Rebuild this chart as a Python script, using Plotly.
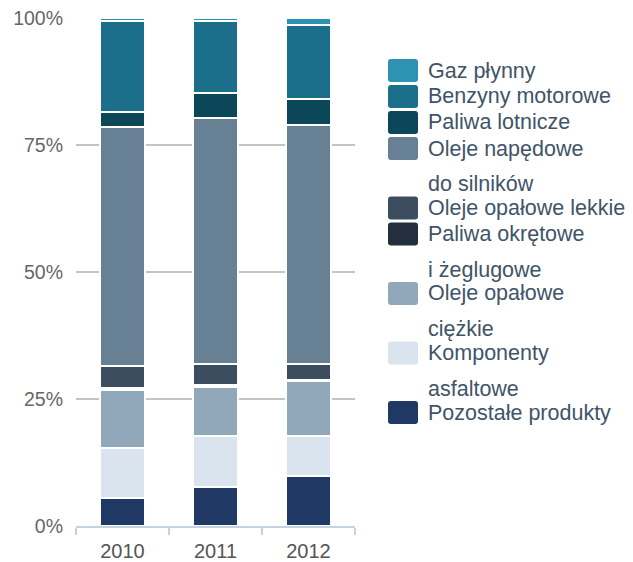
import plotly.graph_objects as go

# shares of sales, stacked bottom -> top
years = ["2010", "2011", "2012"]
pozostale = [5.5, 7.7, 9.9]
komponenty = [9.9, 10.0, 7.8]
oleje_ciezkie = [11.4, 9.7, 10.8]
paliwa_okretowe = [0.4, 0.3, 0.3]
oleje_lekkie = [4.3, 4.2, 3.2]
oleje_napedowe = [46.9, 48.5, 47.0]
paliwa_lotnicze = [3.0, 4.8, 5.1]
benzyny = [17.9, 14.2, 14.7]
gaz = [0.6, 0.6, 1.3]

y_ticks = [0, 25, 50, 75, 100]
y_tick_labels = ["0%", "25%", "50%", "75%", "100%"]

series = [
    (["Pozostałe produkty"], pozostale, "#1f3864"),
    (["Komponenty", "asfaltowe"], komponenty, "#dae4ef"),
    (["Oleje opałowe", "ciężkie"], oleje_ciezkie, "#91a7ba"),
    (["Paliwa okrętowe", "i żeglugowe"], paliwa_okretowe, "#232f3c"),
    (["Oleje opałowe lekkie"], oleje_lekkie, "#3c4d60"),
    (["Oleje napędowe", "do silników"], oleje_napedowe, "#678094"),
    (["Paliwa lotnicze"], paliwa_lotnicze, "#0c4659"),
    (["Benzyny motorowe"], benzyny, "#1c6f8b"),
    (["Gaz płynny"], gaz, "#2e93b3"),
]

# the page body has an 8px default margin, so the figure is shrunk by that much
OFF = 8
W, H = 633 - OFF, 562 - OFF
L, R, T, B = 76 - OFF, 278, 18 - OFF, 36
PW, PH = W - L - R, H - T - B
FONT = "Liberation Sans, Arial, sans-serif"
TXT = "#3f5469"


def px_x(px):
    # page pixel -> paper coord
    return (px - OFF - L) / PW


def px_y(py):
    return (OFF + T + PH - py) / PH


def rounded_rect(x0, y0, x1, y1, r=3):
    rx, ry = r / PW, r / PH
    a, b, c, d = px_x(x0), px_y(y0), px_x(x1), px_y(y1)
    return (f"M{a + rx},{b} L{c - rx},{b} Q{c},{b} {c},{b - ry} "
            f"L{c},{d + ry} Q{c},{d} {c - rx},{d} L{a + rx},{d} "
            f"Q{a},{d} {a},{d + ry} L{a},{b - ry} Q{a},{b} {a + rx},{b} Z")


fig = go.Figure()
for lines, vals, color in series:
    fig.add_trace(go.Bar(
        x=years, y=vals, name=" ".join(lines),
        marker=dict(color=color, line=dict(color="white", width=2)),
    ))

# legend drawn by hand (large rounded swatches, wrapped labels)
shapes, annotations = [], []
y = 70.5
for lines, _, color in reversed(series):
    shapes.append(dict(type="path", xref="paper", yref="paper",
                       path=rounded_rect(388, y - 11.5, 418, y + 11.5),
                       fillcolor=color, line=dict(width=0)))
    annotations.append(dict(x=px_x(426), y=px_y(y), xref="paper", yref="paper",
                            text=lines[0], showarrow=False, xanchor="left",
                            yanchor="middle", font=dict(size=21.5, color=TXT)))
    if len(lines) > 1:
        annotations.append(dict(x=px_x(426), y=px_y(y + 35.5), xref="paper", yref="paper",
                                text=lines[1], showarrow=False, xanchor="left",
                                yanchor="middle", font=dict(size=21.5, color=TXT)))
        y += 59.5
    else:
        y += 26

fig.update_layout(
    width=W, height=H,
    margin=dict(l=L, r=R, t=T, b=B, autoexpand=False),
    barmode="stack", barnorm="percent", bargap=0.52,
    plot_bgcolor="white", paper_bgcolor="white",
    font=dict(family=FONT),
    showlegend=False,
    shapes=shapes, annotations=annotations,
    xaxis=dict(
        automargin=False,
        showgrid=False, showline=True, linecolor="#c4d2e2", linewidth=2,
        ticks="outside", tickson="boundaries", ticklen=7, tickcolor="#c4d2e2",
        tickwidth=2, tickfont=dict(size=20, color="#555555"), ticklabelstandoff=6,
    ),
    yaxis=dict(
        automargin=False, ticklabeloverflow="allow",
        range=[0, 100], tickmode="array", tickvals=y_ticks, ticktext=y_tick_labels,
        showgrid=True, gridcolor="#c4c4c4", gridwidth=2, zeroline=False,
        showline=False, tickfont=dict(size=19.5, color="#666666"), ticklabelstandoff=12,
    ),
)

fig.write_html("out.html")
